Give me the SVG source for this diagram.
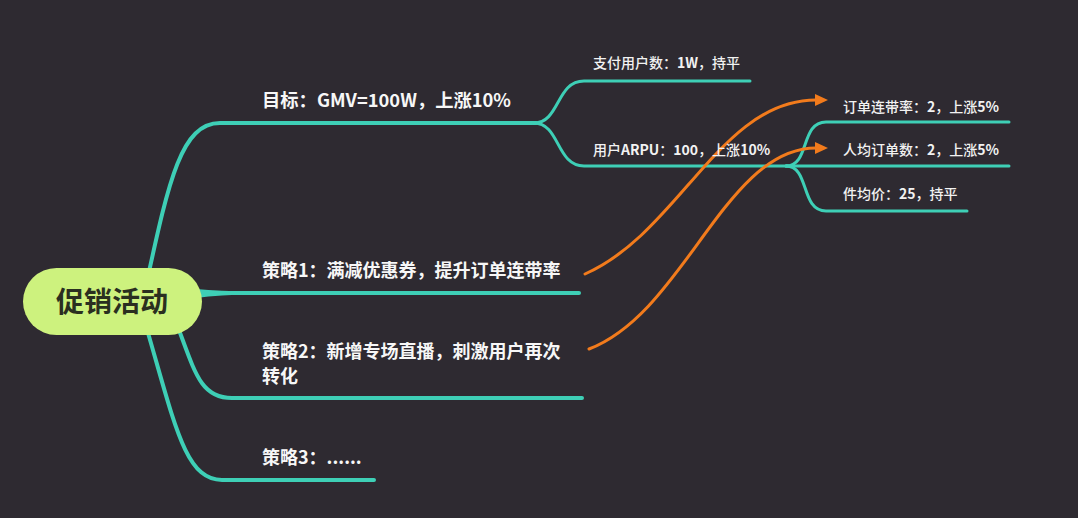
<svg xmlns="http://www.w3.org/2000/svg" width="1078" height="518" viewBox="0 0 1078 518">
<style>
.bg{fill:#2e2a31}
.main{fill:none;stroke:#3ecfb6;stroke-width:4;stroke-linecap:round;stroke-linejoin:round}
.sub{fill:none;stroke:#3ecfb6;stroke-width:3;stroke-linecap:round}
.rel{fill:none;stroke:#f27b1c;stroke-width:3;stroke-linecap:round}
.t1{font-family:"Noto Sans CJK SC","Noto Sans",sans-serif;font-weight:bold;font-size:18px;fill:#f7f7f7}
.t2{font-family:"Noto Sans CJK SC","Noto Sans",sans-serif;font-weight:500;font-size:14px;fill:#f2f2f2}
.b{font-weight:bold}
.root{font-family:"Noto Sans CJK SC","Noto Sans",sans-serif;font-weight:bold;font-size:28px;fill:#2a2f20}
</style>
<defs>
<marker id="ah" markerUnits="userSpaceOnUse" markerWidth="13" markerHeight="12" refX="1" refY="6" orient="auto">
<path d="M0,0 L13,6 L0,12 Z" fill="#f27b1c"/>
</marker>
</defs>
<rect class="bg" x="0" y="0" width="1078" height="518"/>
<g id="connectors">
<path class="main" d="M145,290 C168,185 180,123 220,123 H536"/>
<path class="main" d="M200,293 H579"/>
<path d="M196,289 Q220,291.2 252,291.5 L252,294.5 Q220,294.8 196,298 Z" fill="#3ecfb6"/>
<path class="main" d="M176,322 C195,372 200,398 232,398 H582"/>
<path class="main" d="M146,326 C175,425 185,480 222,480 H374"/>
<path class="sub" d="M534,123 C560,123 556,81 584,81 H750"/>
<path class="sub" d="M534,123 C560,123 556,166 584,166 H788"/>
<path class="sub" d="M786,166 C810,166 800,122 826,122 H1009"/>
<path class="sub" d="M786,166 H1009"/>
<path class="sub" d="M786,166 C810,166 800,211 826,211 H967"/>
<path class="rel" d="M585,274 C680,232 720,100 816,100" marker-end="url(#ah)"/>
<path class="rel" d="M589,349 C685,312 725,148 816,148" marker-end="url(#ah)"/>
</g>
<g id="root">
<rect x="23" y="268" width="179" height="67" rx="33.5" fill="#cdf27e"/>
<text class="root" x="112" y="312" text-anchor="middle">促销活动</text>
</g>
<g id="goal"><text class="t1" x="262" y="107" textLength="249" lengthAdjust="spacingAndGlyphs">目标：GMV=100W，上涨10%</text></g>
<g id="pay-users"><text class="t2" x="593" y="68">支付用户数：<tspan class="b">1W</tspan>，持平</text></g>
<g id="arpu"><text class="t2" x="593" y="155">用户<tspan class="b">ARPU</tspan>：<tspan class="b">100</tspan>，上涨<tspan class="b">10%</tspan></text></g>
<g id="order-rate"><text class="t2" x="843" y="112">订单连带率：<tspan class="b">2</tspan>，上涨<tspan class="b">5%</tspan></text></g>
<g id="orders-per-user"><text class="t2" x="843" y="155">人均订单数：<tspan class="b">2</tspan>，上涨<tspan class="b">5%</tspan></text></g>
<g id="avg-price"><text class="t2" x="843" y="199">件均价：<tspan class="b">25</tspan>，持平</text></g>
<g id="strategy1"><text class="t1" x="262" y="277">策略1：满减优惠券，提升订单连带率</text></g>
<g id="strategy2"><text class="t1" x="262" y="358">策略2：新增专场直播，刺激用户再次</text><text class="t1" x="262" y="383">转化</text></g>
<g id="strategy3"><text class="t1" x="262" y="464">策略3：......</text></g>
</svg>
